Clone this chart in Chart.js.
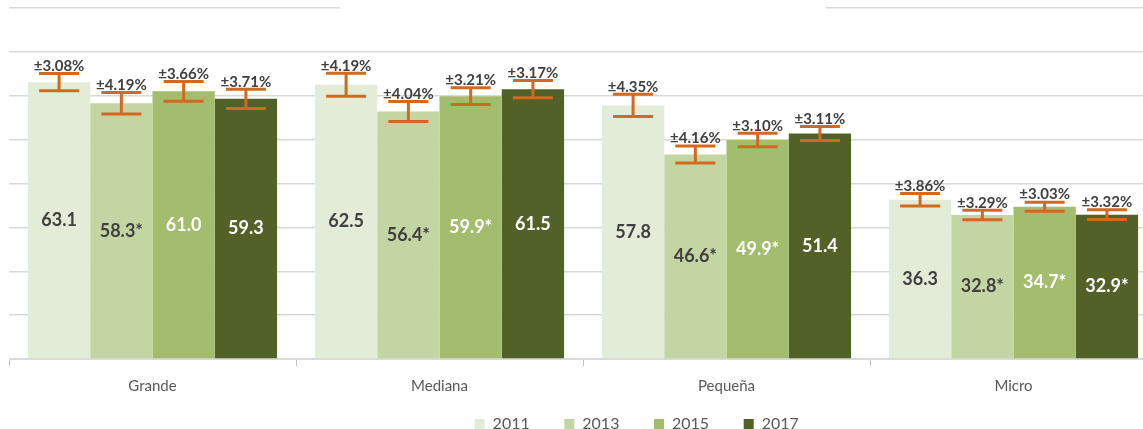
<!DOCTYPE html>
<html>
<head>
<meta charset="utf-8">
<script src="https://cdn.jsdelivr.net/npm/chart.js@4"></script>
<style>
  html, body { margin: 0; padding: 0; background: #fff; overflow: hidden; }
  #wrap { width: 1289px; height: 429px; position: relative; }
</style>
</head>
<body>
<div id="wrap"><canvas id="chart"></canvas></div>
<script>
// data
const categories = ['Grande', 'Mediana', 'Pequeña', 'Micro'];
const years = ['2011', '2013', '2015', '2017'];

const values2011 = [63.1, 62.5, 57.8, 36.3];
const values2013 = [58.3, 56.4, 46.6, 32.8];
const values2015 = [61.0, 59.9, 49.9, 34.7];
const values2017 = [59.3, 61.5, 51.4, 32.9];

// relative margin of error, in percent
const errors2011 = [3.08, 4.19, 4.35, 3.86];
const errors2013 = [4.19, 4.04, 4.16, 3.29];
const errors2015 = [3.66, 3.21, 3.10, 3.03];
const errors2017 = [3.71, 3.17, 3.11, 3.32];

// asterisk = significant change
const marks2011 = [false, false, false, false];
const marks2013 = [true, true, true, true];
const marks2015 = [false, true, true, true];
const marks2017 = [false, false, false, true];

const yTicks = [0, 10, 20, 30, 40, 50, 60, 70, 80];

const colors = ['#E3ECD6', '#C4D5A4', '#A3BC6D', '#526128'];
const labelColors = ['#404040', '#404040', '#ffffff', '#ffffff'];
const errColor = '#D2691F';

const allValues = [values2011, values2013, values2015, values2017];
const allErrors = [errors2011, errors2013, errors2015, errors2017];
const allMarks = [marks2011, marks2013, marks2015, marks2017];

const fontFamily = 'Lato, "Open Sans", sans-serif';

// value labels, error bars and error labels
const barExtras = {
    id: 'barExtras',
    afterDatasetsDraw(chart) {
        const ctx = chart.ctx;
        const y = chart.scales.y;
        ctx.save();
        chart.data.datasets.forEach((ds, di) => {
            const meta = chart.getDatasetMeta(di);
            meta.data.forEach((bar, i) => {
                const v = ds.data[i];
                const e = v * allErrors[di][i] / 100;
                const yHi = y.getPixelForValue(v + e);
                const yLo = y.getPixelForValue(v - e);

                // value inside bar
                ctx.fillStyle = labelColors[di];
                ctx.font = 'bold 18px ' + fontFamily;
                ctx.textAlign = 'center';
                ctx.textBaseline = 'middle';
                const txt = v.toFixed(1) + (allMarks[di][i] ? '*' : '');
                ctx.fillText(txt, bar.x, (bar.y + bar.base) / 2);

                // error bar
                ctx.strokeStyle = errColor;
                ctx.lineWidth = 3;
                ctx.beginPath();
                ctx.moveTo(bar.x, yHi);
                ctx.lineTo(bar.x, yLo);
                ctx.moveTo(bar.x - 20, yHi);
                ctx.lineTo(bar.x + 20, yHi);
                ctx.moveTo(bar.x - 20, yLo);
                ctx.lineTo(bar.x + 20, yLo);
                ctx.stroke();

                // error label
                ctx.fillStyle = '#404040';
                ctx.font = 'bold 15px ' + fontFamily;
                ctx.textBaseline = 'bottom';
                ctx.fillText('±' + allErrors[di][i].toFixed(2) + '%', bar.x, yHi);
            });
        });
        ctx.restore();
    }
};

// the title box covers the middle of the top gridline
const titleMask = {
    id: 'titleMask',
    beforeDatasetsDraw(chart) {
        const ctx = chart.ctx;
        ctx.save();
        ctx.fillStyle = '#fff';
        ctx.fillRect(340, 0, 486, 16);
        ctx.restore();
    }
};

const chart = document.querySelector('#chart').getContext('2d');

new Chart(chart, {
    type: 'bar',
    data: {
        labels: categories,
        datasets: years.map((yr, i) => ({
            label: yr,
            data: allValues[i],
            backgroundColor: colors[i],
            borderWidth: 0,
            categoryPercentage: 0.868,
            barPercentage: 1
        }))
    },
    options: {
        responsive: true,
        maintainAspectRatio: false,
        animation: false,
        layout: { padding: { left: 9, right: 0, top: 8, bottom: -13 } },
        scales: {
            x: {
                grid: { drawOnChartArea: false, drawTicks: true, tickLength: 7, color: '#BFBFBF' },
                border: { color: '#D9D9D9', width: 1 },
                ticks: { color: '#595959', font: { family: fontFamily, size: 15 }, padding: 11 }
            },
            y: {
                position: 'right',
                min: 0,
                max: 80,
                afterBuildTicks(axis) { axis.ticks = yTicks.map(v => ({ value: v })); },
                afterFit(axis) { axis.width = 132; },
                grid: { color: '#D9D9D9', lineWidth: 1.5, drawTicks: false },
                border: { display: false },
                ticks: { display: false }
            }
        },
        plugins: {
            legend: {
                position: 'bottom',
                labels: {
                    boxWidth: 10,
                    boxHeight: 10,
                    padding: 10,
                    color: '#595959',
                    font: { family: fontFamily, size: 16 },
                    generateLabels(c) {
                        return Chart.defaults.plugins.legend.labels.generateLabels(c)
                            .map(l => ({ ...l, text: l.text + '      ' }));
                    }
                }
            },
            tooltip: { enabled: false }
        }
    },
    plugins: [titleMask, barExtras]
});
</script>
</body>
</html>
